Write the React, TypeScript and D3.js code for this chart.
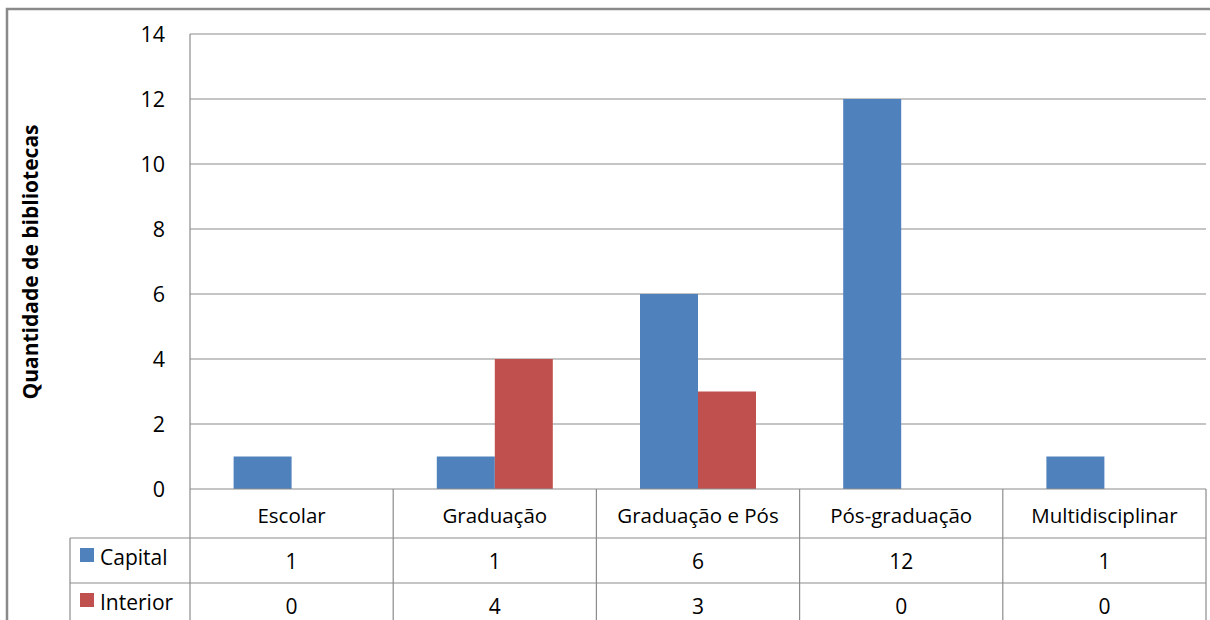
import { useRef, useEffect } from "react";
import * as d3 from "d3";

const categories = ["Escolar", "Graduação", "Graduação e Pós", "Pós-graduação", "Multidisciplinar"];
const seriesNames = ["Capital", "Interior"];
const capital = [1, 1, 6, 12, 1];
const interior = [0, 4, 3, 0, 0];
const colors = ["#4F81BD", "#C0504D"];
const yTicks = [0, 2, 4, 6, 8, 10, 12, 14];

const W = 1210;
const H = 620;
const FONT = "'Open Sans', 'DejaVu Sans', sans-serif";

export default function App() {
    const svgRef = useRef<SVGSVGElement | null>(null);

    useEffect(() => {
        if (!svgRef.current) return;
        const svg = d3.select(svgRef.current);
        svg.selectAll("*").remove();

        const left = 190, right = 1206, top = 34, bottom = 489;
        const row1 = 538, row2 = 583, tableLeft = 70;
        const grid = "#8c8c8c";
        const values = [capital, interior];

        // outer frame
        svg.append("rect")
            .attr("x", 7).attr("y", 9)
            .attr("width", W + 20).attr("height", H + 20)
            .attr("fill", "none").attr("stroke", "#8a8a8a").attr("stroke-width", 2.5);

        const x = d3.scaleBand().domain(categories).range([left, right]);
        const y = d3.scaleLinear().domain([0, 14]).range([bottom, top]);
        const inner = d3.scaleBand().domain(seriesNames).range([0, 116]);
        const offset = (x.bandwidth() - 116) / 2;

        // gridlines
        svg.append("g").selectAll("line")
            .data(yTicks.filter(t => t > 0))
            .enter().append("line")
            .attr("x1", left).attr("x2", right)
            .attr("y1", d => y(d)).attr("y2", d => y(d))
            .attr("stroke", grid).attr("stroke-width", 1.2);

        // y tick labels
        svg.append("g").selectAll("text")
            .data(yTicks)
            .enter().append("text")
            .attr("x", 165).attr("y", d => y(d) + 8)
            .attr("text-anchor", "end")
            .attr("font-family", FONT).attr("font-size", 21.5)
            .attr("fill", "#000")
            .text(d => d);

        // y title
        svg.append("text")
            .attr("transform", `translate(38,262) rotate(-90)`)
            .attr("text-anchor", "middle")
            .attr("font-family", FONT).attr("font-size", 21).attr("font-weight", "bold")
            .text("Quantidade de bibliotecas");

        // bars
        seriesNames.forEach((s, si) => {
            svg.append("g").selectAll("rect")
                .data(categories.map((c, i) => ({ c, v: values[si][i] })))
                .enter().append("rect")
                .attr("x", d => x(d.c)! + offset + inner(s)!)
                .attr("width", inner.bandwidth())
                .attr("y", d => y(d.v))
                .attr("height", d => y(0) - y(d.v))
                .attr("fill", colors[si]);
        });

        // table lines
        const hl = [
            { y: bottom, x1: left },
            { y: row1, x1: tableLeft },
            { y: row2, x1: tableLeft },
        ];
        svg.append("g").selectAll("line")
            .data(hl).enter().append("line")
            .attr("x1", d => d.x1).attr("x2", right)
            .attr("y1", d => d.y).attr("y2", d => d.y)
            .attr("stroke", grid).attr("stroke-width", 1.2);

        svg.append("line")
            .attr("x1", left).attr("x2", left).attr("y1", top).attr("y2", H)
            .attr("stroke", grid).attr("stroke-width", 1.2);
        svg.append("line")
            .attr("x1", tableLeft).attr("x2", tableLeft).attr("y1", row1).attr("y2", H)
            .attr("stroke", grid).attr("stroke-width", 1.2);
        svg.append("g").selectAll("line")
            .data(categories.slice(1)).enter().append("line")
            .attr("x1", d => x(d)!).attr("x2", d => x(d)!)
            .attr("y1", bottom).attr("y2", H)
            .attr("stroke", grid).attr("stroke-width", 1.2);
        svg.append("line")
            .attr("x1", right).attr("x2", right).attr("y1", bottom).attr("y2", H)
            .attr("stroke", grid).attr("stroke-width", 1.2);

        // category labels
        svg.append("g").selectAll("text")
            .data(categories).enter().append("text")
            .attr("x", d => x(d)! + x.bandwidth() / 2)
            .attr("y", 523)
            .attr("text-anchor", "middle")
            .attr("font-family", FONT).attr("font-size", 20.5)
            .text(d => d);

        // legend + values rows
        const rowsY = [row1, row2];
        seriesNames.forEach((s, si) => {
            const ry = rowsY[si];
            svg.append("rect")
                .attr("x", 80).attr("y", ry + 10)
                .attr("width", 14).attr("height", 14)
                .attr("fill", colors[si]);
            svg.append("text")
                .attr("x", 100).attr("y", ry + 27)
                .attr("font-family", FONT).attr("font-size", 21)
                .text(s);
            svg.append("g").selectAll("text")
                .data(categories.map((c, i) => ({ c, v: values[si][i] })))
                .enter().append("text")
                .attr("x", d => x(d.c)! + x.bandwidth() / 2)
                .attr("y", ry + 31)
                .attr("text-anchor", "middle")
                .attr("font-family", FONT).attr("font-size", 21)
                .text(d => d.v);
        });
    }, []);

    return (
        <svg
            ref={svgRef}
            width={W}
            height={H}
            style={{ position: "absolute", left: 0, top: 0, background: "#fff" }}
        />
    );
}
